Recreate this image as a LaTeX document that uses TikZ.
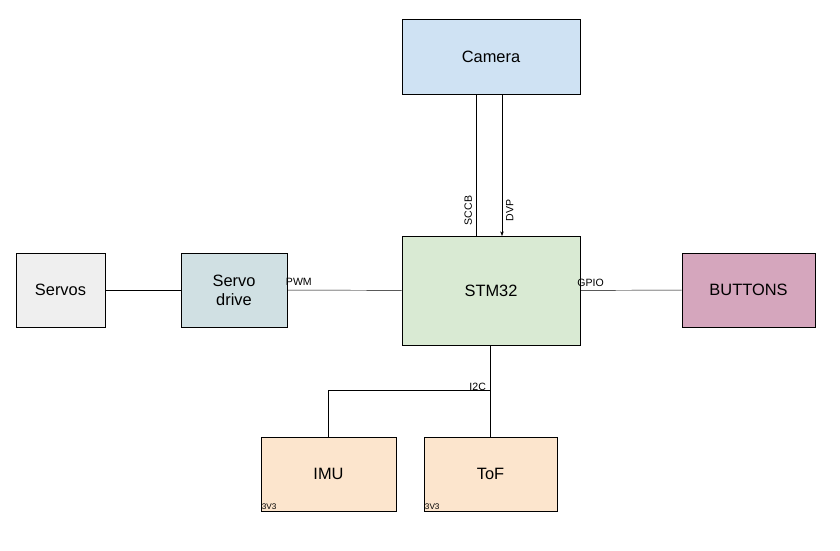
\documentclass[tikz,border=0pt]{standalone}
\usepackage{fontspec}
\setmainfont{Liberation Sans}
\usetikzlibrary{arrows.meta}
\definecolor{camfill}{HTML}{CFE2F3}
\definecolor{mcufill}{HTML}{D9EAD3}
\definecolor{servofill}{HTML}{EFEFEF}
\definecolor{drivefill}{HTML}{D0E0E3}
\definecolor{btnfill}{HTML}{D5A6BD}
\definecolor{sensfill}{HTML}{FCE5CD}
\tikzset{
  block/.style={draw, thick, font=\fontsize{14}{16}\selectfont, align=center, inner sep=0pt},
  sig/.style={font=\fontsize{9}{10}\selectfont},
  pwr/.style={font=\fontsize{7}{8}\selectfont, inner sep=1pt}
}
\begin{document}
\begin{tikzpicture}[x=0.03cm, y=-0.03cm]
            \useasboundingbox (0,0) rectangle (840,550);
            \node[block, fill=camfill, minimum width=5.34cm, minimum height=2.25cm] (cam) at (491,56.5) {Camera};
            \node[block, fill=mcufill, minimum width=5.34cm, minimum height=3.27cm] (mcu) at (491,290.5) {STM32};
            \node[block, fill=servofill, minimum width=2.67cm, minimum height=2.22cm] (servos) at (60.5,290) {Servos};
            \node[block, fill=drivefill, minimum width=3.18cm, minimum height=2.22cm] (drive) at (234,290) {Servo\\drive};
            \node[block, fill=btnfill, minimum width=3.99cm, minimum height=2.22cm] (btn) at (748.5,290) {BUTTONS};
            \node[block, fill=sensfill, minimum width=4.05cm, minimum height=2.22cm] (imu) at (328.5,474) {IMU};
            \node[block, fill=sensfill, minimum width=3.99cm, minimum height=2.22cm] (tof) at (490.5,474) {ToF};
            \node[pwr, anchor=south west] at (imu.south west) {3V3};
            \node[pwr, anchor=south west] at (tof.south west) {3V3};

            % camera links
            \coordinate (sccb) at (476,236);
            \coordinate (dvp) at (502,236);
            \draw (cam.south -| sccb) -- node[pos=0.82, sig, rotate=90, anchor=south] {SCCB} (sccb);
            \draw[-{Stealth[length=4pt]}] (cam.south -| dvp) -- node[pos=0.82, sig, rotate=90, anchor=north] {DVP} (dvp);

            % side links
            \draw (servos) -- (drive);
            \draw (drive) -- node[sig, pos=0.1, above] {PWM} (mcu);
            \draw (mcu) -- node[sig, pos=0.1, above] {GPIO} (btn);

            % I2C bus
            \coordinate (bus) at (490,390);
            \draw (mcu.south -| bus) -- node[sig, left, pos=0.45] {I2C} (tof.north -| bus);
            \draw (bus) -| (imu.north);
\end{tikzpicture}
\end{document}
